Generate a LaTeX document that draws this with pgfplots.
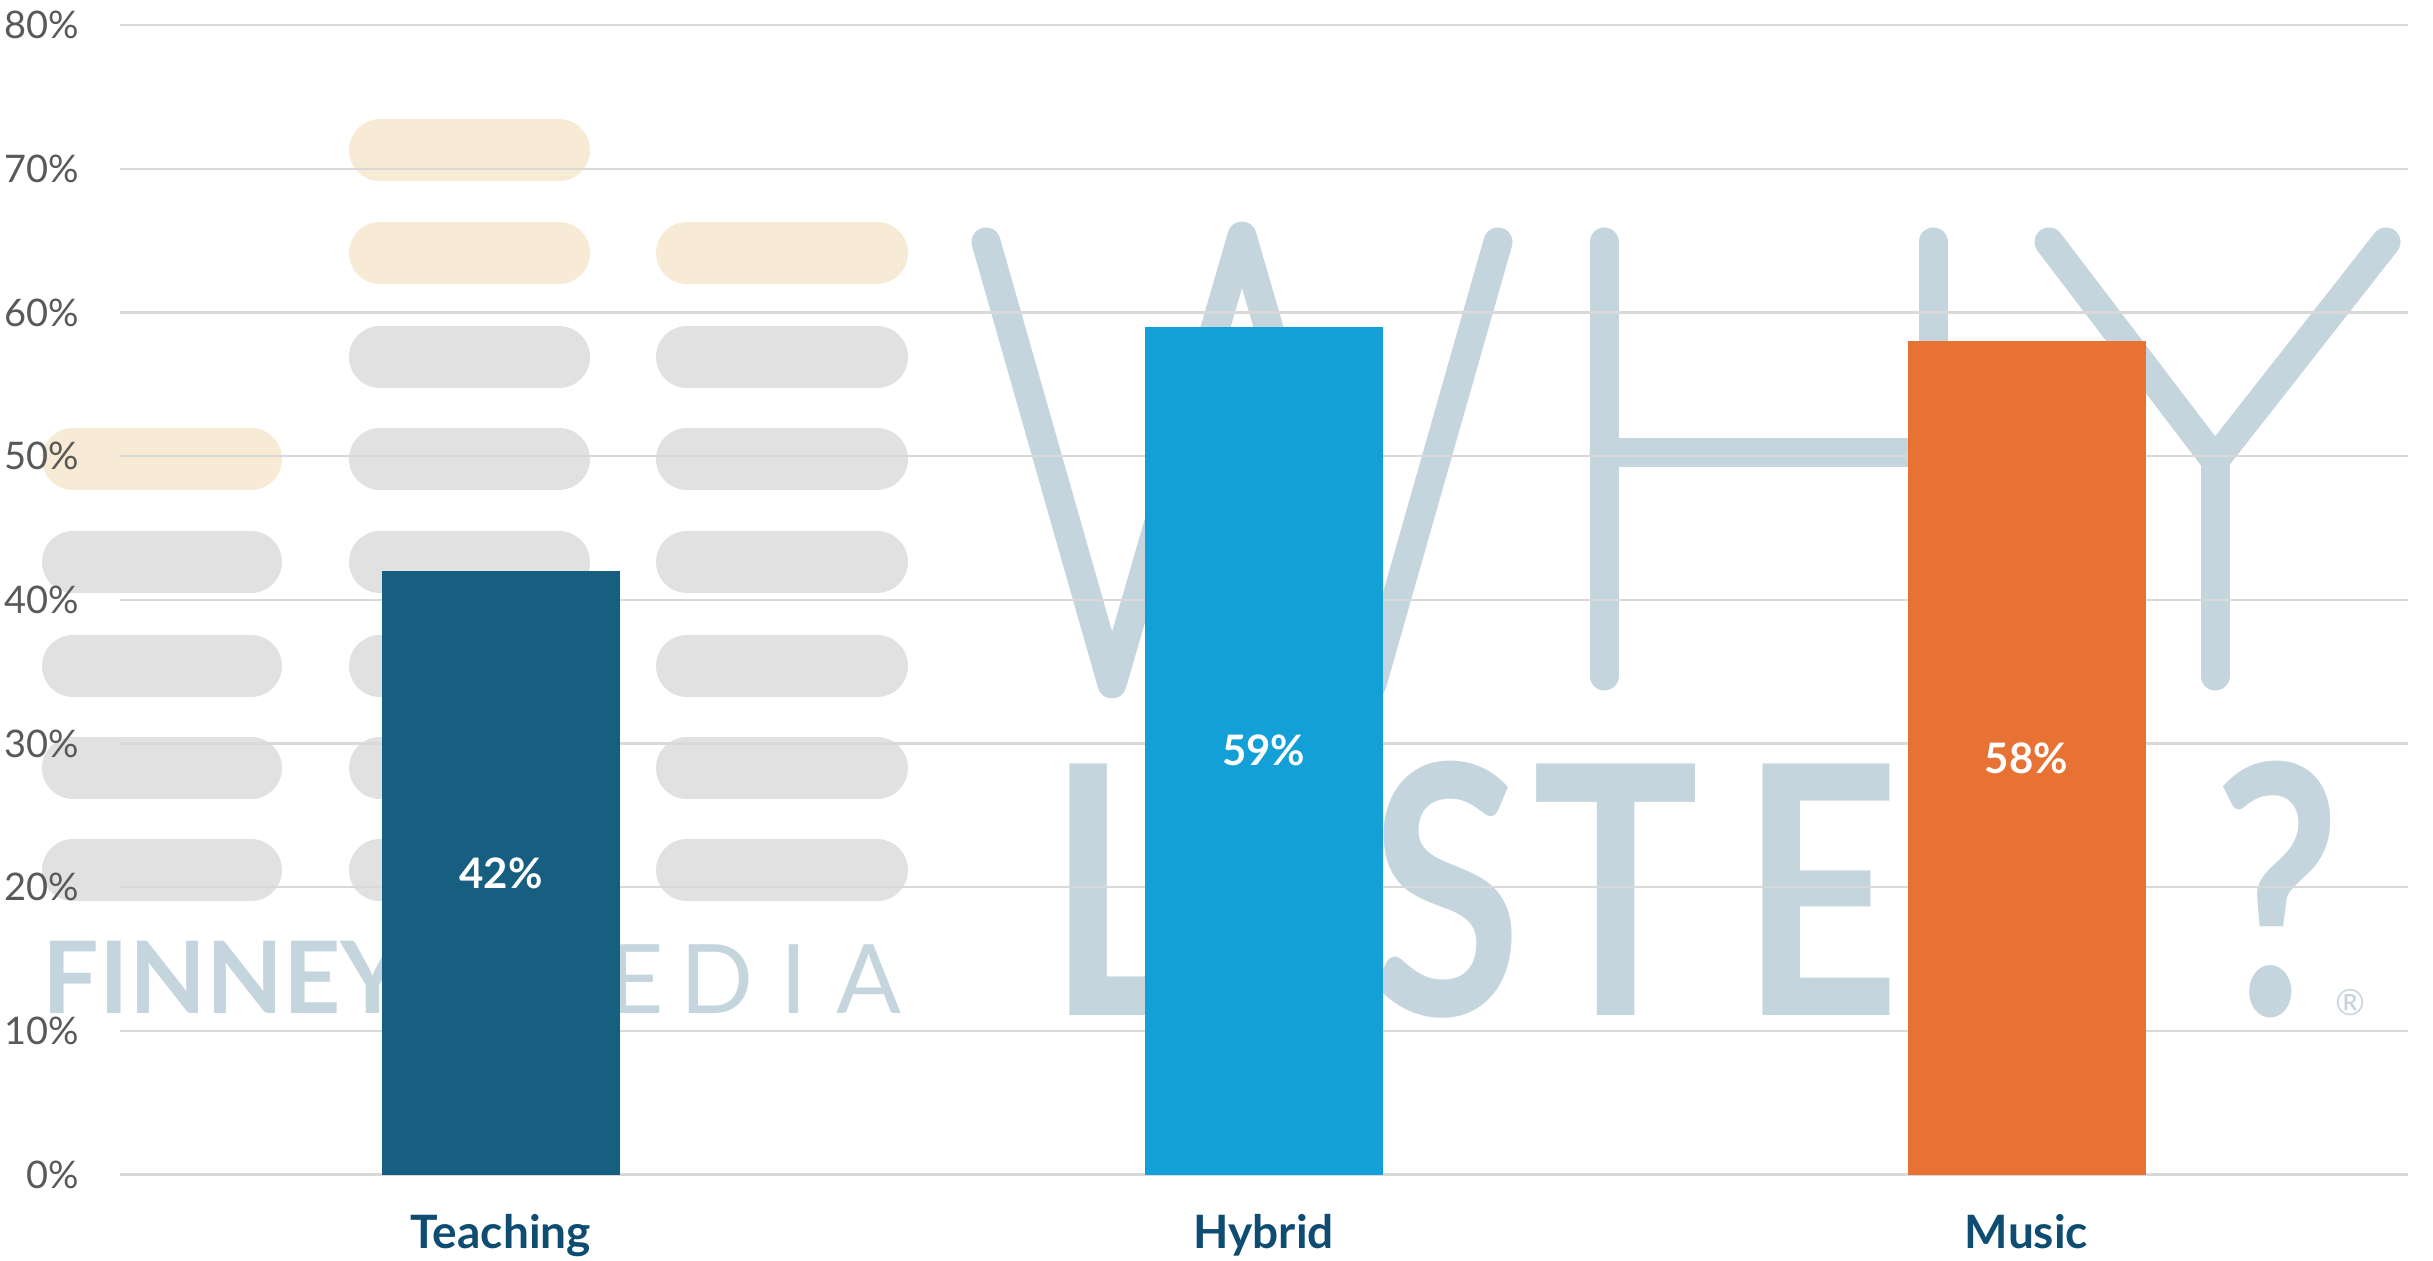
\documentclass[border=0pt]{standalone}
\usepackage{fontspec}
\setmainfont{Lato}
\usepackage{graphicx}
\usepackage{pgfplots}
\pgfplotsset{compat=1.18}

\definecolor{teach}{HTML}{175F80}
\definecolor{hyb}{HTML}{12A0D7}
\definecolor{mus}{HTML}{E87234}
\definecolor{catlbl}{HTML}{0F4C72}
\definecolor{ticklbl}{HTML}{595959}
\definecolor{gridc}{HTML}{D9D9D9}
\definecolor{wmblue}{HTML}{C5D5DE}
\definecolor{wmgray}{HTML}{E1E1E1}
\definecolor{wmsand}{HTML}{F7EBD6}

\begin{document}
\begin{tikzpicture}
% watermark, drawn in image pixels (origin top left)
\begin{scope}[x=0.25pt, y=-0.25pt]
  \begin{scope}[line cap=round, line width=15.5pt]
    % sand pills
    \draw[wmsand] (380,150.5) -- (559,150.5);
    \draw[wmsand] (380,253) -- (559,253);
    \draw[wmsand] (687,253) -- (877,253);
    \draw[wmsand] (73,459) -- (251,459);
    % grey pills
    \foreach \yy in {357,459,562,666,768,870.5} {
      \draw[wmgray] (380,\yy) -- (559,\yy);
      \draw[wmgray] (687,\yy) -- (877,\yy);
    }
    \foreach \yy in {562,666,768,870.5} {
      \draw[wmgray] (73,\yy) -- (251,\yy);
    }
  \end{scope}
  % WHY
  \begin{scope}[wmblue, line width=7.25pt, line cap=round, line join=round]
    \draw (986,242) -- (1112,684) -- (1242,236) -- (1372,684) -- (1498,242);
    \draw (1604,242) -- (1604,676);
    \draw (1933,242) -- (1933,676);
    \draw (1604,453) -- (1933,453);
    \draw (2049,242) -- (2215,460) -- (2386,242);
    \draw (2215,460) -- (2215,676);
  \end{scope}
  % LISTEN?
  \begin{scope}[text=wmblue, font=\bfseries\fontsize{87}{87}\selectfont, inner sep=0pt]
    \node[anchor=base west] at (1047,1016) {\scalebox{0.8}[1]{L}};
    \node[anchor=base] at (1215,1016) {\scalebox{0.8}[1]{I}};
    \node[anchor=base] at (1446,1016) {\scalebox{0.8}[1]{S}};
    \node[anchor=base] at (1616,1016) {\scalebox{0.8}[1]{T}};
    \node[anchor=base] at (1821,1016) {\scalebox{0.8}[1]{E}};
    \node[anchor=base] at (2030,1016) {\scalebox{0.8}[1]{N}};
    \node[anchor=base] at (2278,1016) {\scalebox{0.8}[1]{?}};
  \end{scope}
  \node[text=wmblue, font=\fontsize{9}{9}\selectfont, anchor=base, inner sep=0pt] at (2350,1016) {®};
  % FINNEY MEDIA
  \node[text=wmblue, font=\bfseries\fontsize{25}{25}\selectfont, anchor=base west, inner sep=0pt] at (42,1013) {FINNEY};
  \begin{scope}[text=wmblue, font=\fontsize{24}{24}\selectfont, inner sep=0pt]
    \node[anchor=base] at (535,1013) {M};
    \node[anchor=base] at (636,1013) {E};
    \node[anchor=base] at (717,1013) {D};
    \node[anchor=base] at (794,1013) {I};
    \node[anchor=base] at (869,1013) {A};
  \end{scope}
\end{scope}

\begin{axis}[
    at={(29.875pt,-293.65pt)}, anchor=south west,
    scale only axis,
    width=572.1pt, height=287.4pt,
    xmin=-0.5, xmax=2.5,
    ymin=0, ymax=80,
    xtick={0,1,2},
    xticklabels={Teaching, Hybrid, Music},
    ytick={0,10,...,80},
    yticklabels={0\%,10\%,20\%,30\%,40\%,50\%,60\%,70\%,80\%},
    major tick length=0pt,
    axis line style={draw=none},
    ymajorgrids=true,
    grid style={color=gridc, line width=0.6pt},
    yticklabel style={text=ticklbl, font=\fontsize{9.5}{11}\selectfont, xshift=-6.5pt},
    xticklabel style={text=catlbl, font=\bfseries\fontsize{11.5}{13}\selectfont, yshift=-6.5pt},
    ybar, bar width=59.5pt, bar shift=0pt,
    /pgf/number format/assume math mode=true,
    visualization depends on={y \as \rawy},
    nodes near coords={\pgfmathprintnumber{\pgfplotspointmeta}\%},
    every node near coord/.append style={anchor=center, text=white,
      font=\bfseries\fontsize{10.5}{12}\selectfont, yshift=-\rawy*1.79625pt},
    clip=false,
  ]
  \addplot[fill=teach, draw=none] coordinates {(0,42)};
  \addplot[fill=hyb, draw=none] coordinates {(1,59)};
  \addplot[fill=mus, draw=none] coordinates {(2,58)};
\end{axis}
\pgfresetboundingbox
\path (0pt,0pt) rectangle (608.25pt,-315.25pt);
\end{tikzpicture}
\end{document}
